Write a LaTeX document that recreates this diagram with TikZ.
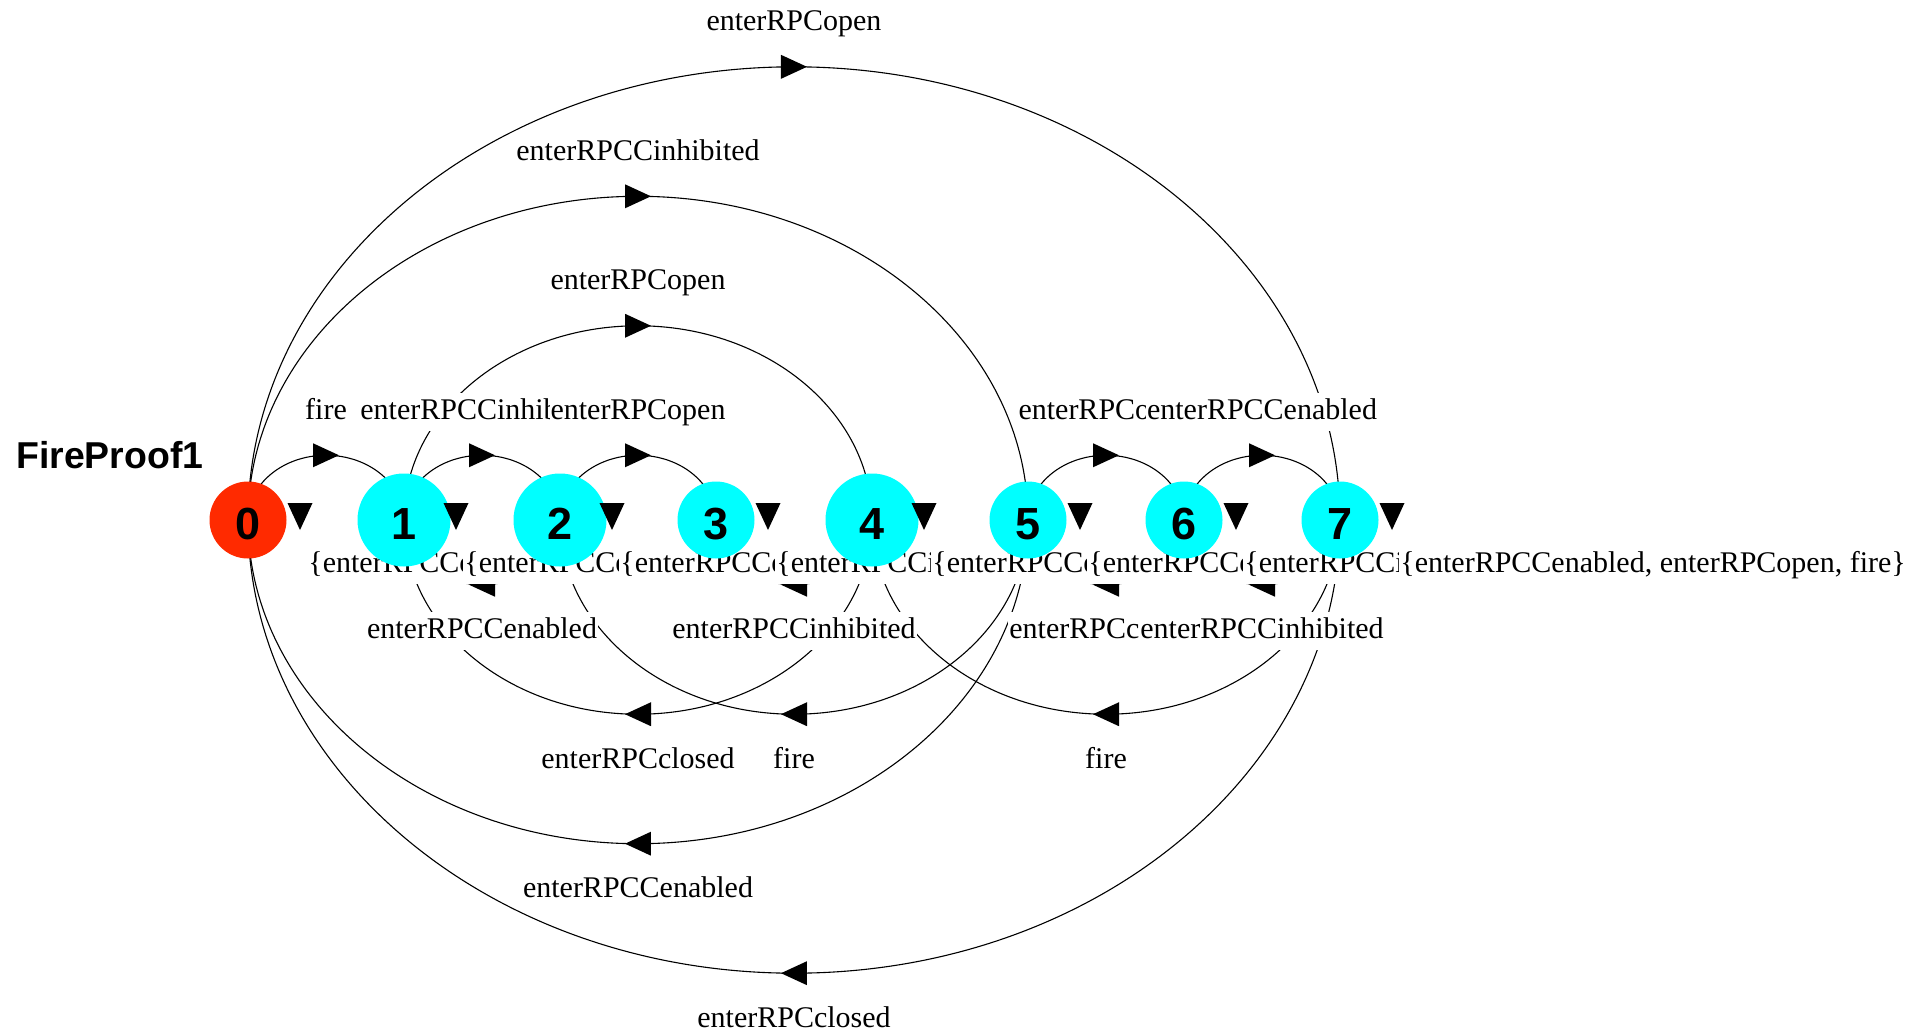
\documentclass[tikz,border=0pt]{standalone}
\usepackage{fontspec}
\setmainfont{Liberation Serif}
\newfontfamily\headfont{Liberation Sans}
\usetikzlibrary{calc,decorations.markings}

\definecolor{startred}{HTML}{FF2A00}
\definecolor{statecyan}{HTML}{00FFFF}

\pgfdeclarelayer{edges}
\pgfdeclarelayer{labels}
\pgfsetlayers{edges,labels,main}

\begin{document}
\begin{tikzpicture}[x=0.5pt,y=0.5pt,
  state/.style={circle, inner sep=0pt, minimum size=38.5pt, fill=statecyan,
    text height=19.6pt, text depth=0pt,
    font=\headfont\bfseries\fontsize{22.5pt}{24pt}\selectfont},
  bigstate/.style={state, minimum size=46.5pt},
  startstate/.style={state, fill=startred},
  % transition: thin line, filled triangle at its middle, middle point named #1
  tr/.style={line width=0.55pt, postaction={decorate},
    decoration={markings, mark=at position 0.5 with {
      \coordinate (#1);
      \fill (-13,-12) -- (13,0) -- (-13,12) -- cycle;}}},
  % half ellipse above the row, left to right
  over/.style={to path={let \p1=(\tikztostart), \p2=(\tikztotarget),
      \n1={0.5*(\x2-\x1)} in
      arc[start angle=180, end angle=0, x radius=\n1, y radius=0.83*\n1]}},
  % half ellipse below the row, right to left
  under/.style={to path={let \p1=(\tikztostart), \p2=(\tikztotarget),
      \n1={0.5*(\x1-\x2)} in
      arc[start angle=0, end angle=-180, x radius=\n1, y radius=0.83*\n1]}},
  lbl/.style={fill=white, inner xsep=0.5pt, inner ysep=2pt, text height=11.25pt,
    text depth=3.75pt, anchor=base, font=\fontsize{15pt}{18pt}\selectfont},
  setlbl/.style={lbl, anchor=base west}
]
\useasboundingbox (0,0) rectangle (1928,-1033);

% title
\node[anchor=base west, inner sep=0pt,
  font=\headfont\bfseries\fontsize{18.7pt}{22pt}\selectfont] (title) at (16,-468) {FireProof1};

% states
\node[startstate] (n0) at (248,-520) {0};
\node[bigstate]   (n1) at (404,-520) {1};
\node[bigstate]   (n2) at (560,-520) {2};
\node[state]      (n3) at (716,-520) {3};
\node[bigstate]   (n4) at (872,-520) {4};
\node[state]      (n5) at (1028,-520) {5};
\node[state]      (n6) at (1184,-520) {6};
\node[state]      (n7) at (1340,-520) {7};

% small markers beside each state
\foreach \k in {0,...,7}
  \fill ($(n\k)+(39.5,17)$) -- ++(25,0) -- ++(-12.5,-27) -- cycle;

% transitions
\begin{pgfonlayer}{edges}
\draw[tr=a01] (n0.center) to[over] (n1.center);
\draw[tr=a12] (n1.center) to[over] (n2.center);
\draw[tr=a23] (n2.center) to[over] (n3.center);
\draw[tr=a56] (n5.center) to[over] (n6.center);
\draw[tr=a67] (n6.center) to[over] (n7.center);
\draw[tr=a14] (n1.center) to[over] (n4.center);
\draw[tr=a05] (n0.center) to[over] (n5.center);
\draw[tr=a07] (n0.center) to[over] (n7.center);
\draw[tr=a21] (n2.center) to[under] (n1.center);
\draw[tr=a43] (n4.center) to[under] (n3.center);
\draw[tr=a65] (n6.center) to[under] (n5.center);
\draw[tr=a76] (n7.center) to[under] (n6.center);
\draw[tr=a41] (n4.center) to[under] (n1.center);
\draw[tr=a52] (n5.center) to[under] (n2.center);
\draw[tr=a74] (n7.center) to[under] (n4.center);
\draw[tr=a50] (n5.center) to[under] (n0.center);
\draw[tr=a70] (n7.center) to[under] (n0.center);
\end{pgfonlayer}

% transition labels and state labels
\begin{pgfonlayer}{labels}
\node[lbl] (l01) at ($(a01)+(0,36)$) {fire};
\node[lbl] (l12) at ($(a12)+(0,36)$) {enterRPCCinhibited};
\node[lbl] (l23) at ($(a23)+(0,36)$) {enterRPCopen};
\node[lbl] (l56) at ($(a56)+(0,36)$) {enterRPCopen};
\node[lbl] (l67) at ($(a67)+(0,36)$) {enterRPCCenabled};
\node[lbl] (l14) at ($(a14)+(0,36)$) {enterRPCopen};
\node[lbl] (l05) at ($(a05)+(0,36)$) {enterRPCCinhibited};
\node[lbl] (l07) at ($(a07)+(0,36)$) {enterRPCopen};
\node[lbl] (l21) at ($(a21)+(0,-54)$) {enterRPCCenabled};
\node[lbl] (l43) at ($(a43)+(0,-54)$) {enterRPCCinhibited};
\node[lbl] (l65) at ($(a65)+(0,-54)$) {enterRPCclosed};
\node[lbl] (l76) at ($(a76)+(0,-54)$) {enterRPCCinhibited};
\node[lbl] (l41) at ($(a41)+(0,-54)$) {enterRPCclosed};
\node[lbl] (l52) at ($(a52)+(0,-54)$) {fire};
\node[lbl] (l74) at ($(a74)+(0,-54)$) {fire};
\node[lbl] (l50) at ($(a50)+(0,-54)$) {enterRPCCenabled};
\node[lbl] (l70) at ($(a70)+(0,-54)$) {enterRPCclosed};

\node[setlbl] (s0) at ($(n0)+(59,-52)$) {\{enterRPCCenabled, enterRPCclosed\}};
\node[setlbl] (s1) at ($(n1)+(59,-52)$) {\{enterRPCCenabled, fire\}};
\node[setlbl] (s2) at ($(n2)+(59,-52)$) {\{enterRPCCenabled, enterRPCopen\}};
\node[setlbl] (s3) at ($(n3)+(59,-52)$) {\{enterRPCCinhibited, enterRPCclosed\}};
\node[setlbl] (s4) at ($(n4)+(59,-52)$) {\{enterRPCCenabled, enterRPCopen\}};
\node[setlbl] (s5) at ($(n5)+(59,-52)$) {\{enterRPCCenabled, fire\}};
\node[setlbl] (s6) at ($(n6)+(59,-52)$) {\{enterRPCCinhibited, fire\}};
\node[setlbl] (s7) at ($(n7)+(59,-52)$) {\{enterRPCCenabled, enterRPCopen, fire\}};
\end{pgfonlayer}
\end{tikzpicture}
\end{document}
